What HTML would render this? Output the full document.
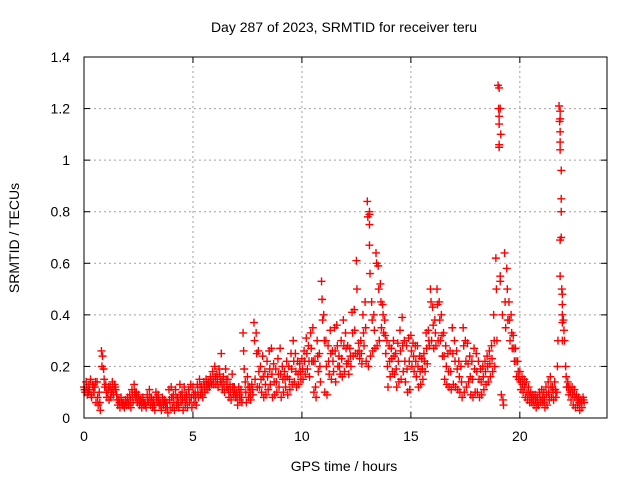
<!DOCTYPE html>
<html><head><meta charset="utf-8"><style>
body{margin:0;background:#fff;}
svg{display:block;font-family:"Liberation Sans",sans-serif;}
</style></head><body>
<svg id="chart" width="640" height="480" viewBox="0 0 640 480" xmlns="http://www.w3.org/2000/svg">
<rect width="640" height="480" fill="#fff"/>
<text x="344" y="32" font-size="14" text-anchor="middle">Day 287 of 2023, SRMTID for receiver teru</text>
<text x="344" y="471" font-size="14" text-anchor="middle">GPS time / hours</text>
<text transform="translate(19,238) rotate(-90)" font-size="14" text-anchor="middle">SRMTID / TECUs</text>
<g id="grid"></g>
<g id="marks"></g>
<rect x="84" y="57" width="523" height="361" fill="none" stroke="#000" stroke-width="1"/>
</svg>
<script>
const xTicks=[0,5,10,15,20];
const yTicks=[0,0.2,0.4,0.6,0.8,1,1.2,1.4];
const yTickLabels=["0","0.2","0.4","0.6","0.8","1","1.2","1.4"];
const valuesA=[
.12,.14,.10,.15,.13,.12,.14,.10,.26,.19,
.13,.10,.12,.14,.13,.09,.07,.08,.06,.07,
.08,.09,.11,.13,.10,.09,.07,.08,.06,.09,
.11,.08,.07,.10,.09,.06,.08,.07,.06,.11,
.12,.09,.11,.08,.13,.10,.12,.09,.11,.13,
.12,.10,.13,.15,.12,.14,.15,.14,.16,.18,
.20,.17,.19,.25,.16,.19,.15,.13,.17,.12,
.10,.12,.11,.33,.14,.16,.12,.13,.37,.33,
.26,.20,.24,.18,.22,.26,.27,.21,.19,.23,
.27,.20,.18,.22,.20,.25,.30,.25,.22,.21,
.23,.26,.31,.28,.33,.35,.22,.30,.25,.53,
.40,.30,.28,.34,.26,.35,.36,.24,.30,.38,
.33,.28,.27,.41,.42,.61,.29,.30,.40,.45,
.84,.67,.45,.40,.64,.59,.52,.44,.38,.30,
.28,.27,.30,.25,.29,.34,.39,.30,.28,.31,
.32,.29,.28,.28,.24,.23,.25,.33,.34,.50,
.43,.38,.50,.45,.40,.33,.28,.25,.26,.35,
.30,.26,.22,.20,.35,.30,.29,.24,.22,.27,
.25,.22,.19,.20,.22,.24,.26,.28,.40,.62,
1.29,1.20,.40,.64,.58,.45,.40,.32,.27,.22,
.18,.16,.15,.14,.12,.10,.09,.09,.08,.10,
.11,.10,.12,.14,.16,.12,.14,.10,1.21,.70,
.38,.20,.14,.12,.12,.11,.09,.08,.07,.08];
const valuesB=[
.10,.09,.11,.08,.10,.06,.05,.03,.24,.12,
.08,.07,.10,.09,.11,.05,.04,.05,.04,.05,
.05,.04,.06,.08,.06,.05,.04,.05,.04,.06,
.05,.04,.03,.06,.05,.03,.05,.04,.02,.04,
.04,.03,.05,.04,.06,.03,.05,.04,.06,.04,
.06,.05,.08,.09,.08,.10,.11,.12,.13,.13,
.13,.12,.14,.11,.10,.12,.08,.07,.09,.08,
.05,.07,.06,.19,.06,.08,.07,.09,.15,.12,
.12,.10,.08,.09,.11,.13,.08,.09,.10,.12,
.08,.10,.12,.09,.11,.13,.14,.12,.13,.15,
.15,.17,.19,.16,.22,.10,.08,.18,.14,.38,
.10,.09,.17,.15,.18,.14,.20,.17,.16,.18,
.21,.17,.20,.24,.25,.25,.23,.21,.28,.22,
.20,.24,.26,.27,.28,.30,.35,.33,.25,.12,
.16,.18,.17,.12,.14,.15,.18,.14,.10,.11,
.20,.18,.16,.12,.13,.15,.18,.21,.28,.30,
.27,.28,.30,.30,.24,.15,.13,.12,.11,.13,
.12,.11,.10,.08,.10,.12,.14,.09,.08,.10,
.10,.08,.09,.11,.13,.14,.16,.18,.20,.30,
1.05,.09,.05,.35,.38,.30,.27,.22,.16,.15,
.11,.10,.08,.07,.06,.06,.05,.04,.05,.06,
.06,.04,.05,.07,.08,.07,.08,.30,.55,.30,
.30,.12,.09,.07,.05,.04,.05,.03,.04,.06];
const valuesC=[
.11,.12,.13,.09,.12,.14,.08,.06,.20,.15,
.10,.12,.08,.11,.12,.07,.06,.06,.05,.06,
.06,.07,.09,.10,.08,.07,.06,.06,.05,.07,
.08,.06,.05,.08,.07,.05,.06,.06,.04,.07,
.08,.06,.08,.06,.09,.07,.08,.07,.09,.08,
.09,.08,.10,.12,.10,.12,.13,.13,.14,.15,
.16,.15,.17,.14,.13,.15,.11,.10,.12,.10,
.08,.09,.08,.26,.10,.12,.10,.11,.30,.25,
.18,.15,.16,.13,.16,.19,.17,.14,.14,.17,
.17,.15,.15,.16,.15,.19,.22,.18,.17,.18,
.19,.22,.25,.22,.27,.22,.12,.24,.20,.46,
.30,.20,.22,.25,.22,.26,.28,.20,.23,.28,
.27,.22,.24,.33,.34,.50,.26,.25,.33,.35,
.78,.56,.38,.34,.60,.50,.45,.40,.32,.20,
.22,.23,.24,.19,.22,.26,.28,.22,.19,.22,
.26,.24,.22,.20,.18,.19,.22,.27,.30,.45,
.36,.33,.44,.38,.32,.24,.20,.18,.18,.25,
.22,.19,.16,.14,.28,.22,.21,.16,.15,.19,
.18,.15,.14,.16,.18,.20,.21,.23,.30,.50,
1.20,1.10,.07,.45,.50,.38,.33,.27,.22,.18,
.14,.13,.12,.10,.09,.08,.07,.07,.06,.08,
.08,.07,.09,.10,.12,.10,.11,.20,1.15,.50,
.34,.16,.12,.10,.09,.08,.07,.06,.06,.07];
const spikeTimes=[19.05,19.05,19.05,19.05,21.85,21.85,21.85,21.85,21.85,21.9,21.9,21.9,21.85,13.1,13.1,13.1,19.1,19.1,21.95,21.95,21.95,21.95];
const spikeValues=[1.28,1.17,1.14,1.06,1.19,1.16,1.11,1.07,1.04,0.96,0.85,0.80,0.69,0.80,0.79,0.75,0.55,0.53,0.48,0.44,0.40,0.37];
const timeStep=0.1;
const X0=84,X1=607,Y0=418,Y1=57,XMAX=24,YMAX=1.4;
const NS="http://www.w3.org/2000/svg";
function xs(t){return X0+(X1-X0)*t/XMAX;}
function ys(v){return Y0-(Y0-Y1)*v/YMAX;}
const grid=document.getElementById('grid');
const marks=document.getElementById('marks');
function mk(tag,attrs,parent){const e=document.createElementNS(NS,tag);for(const k in attrs)e.setAttribute(k,attrs[k]);parent.appendChild(e);return e;}
xTicks.forEach(t=>{
  const x=xs(t);
  if(t>0){const g=mk('line',{x1:x,y1:Y0,x2:x,y2:Y1,stroke:'#a0a0a0','stroke-dasharray':'2,3'},grid);
  
  }
  mk('line',{x1:x,y1:Y0,x2:x,y2:Y0-6,stroke:'#000'},grid);
  mk('line',{x1:x,y1:Y1,x2:x,y2:Y1+6,stroke:'#000'},grid);
  const l=mk('text',{x:x,y:Y0+23,'font-size':14,'text-anchor':'middle'},grid);
  l.textContent=t;
  
  
});
yTicks.forEach((v,i)=>{
  const y=ys(v);
  if(v>0&&v<YMAX){const g=mk('line',{x1:X0,y1:y,x2:X1,y2:y,stroke:'#a0a0a0','stroke-dasharray':'2,3'},grid);
  
  }
  mk('line',{x1:X0,y1:y,x2:X0+6,y2:y,stroke:'#000'},grid);
  mk('line',{x1:X1,y1:y,x2:X1-6,y2:y,stroke:'#000'},grid);
  const l=mk('text',{x:X0-14,y:y+5,'font-size':14,'text-anchor':'end'},grid);
  l.textContent=yTickLabels[i];
  
  
});
function plus(t,v){
  const x=xs(t),y=ys(v);
  const p=mk('path',{d:`M${x-4},${y}H${x+4}M${x},${y-4}V${y+4}`,stroke:'#ff0000','stroke-width':1.4,fill:'none'},marks);
  
  
}
valuesA.forEach((v,i)=>plus(i*timeStep,v));
valuesB.forEach((v,i)=>plus(i*timeStep+0.05,v));
valuesC.forEach((v,i)=>plus(i*timeStep+0.025,v));
spikeTimes.forEach((t,i)=>plus(t,spikeValues[i]));
</script>
</body></html>
